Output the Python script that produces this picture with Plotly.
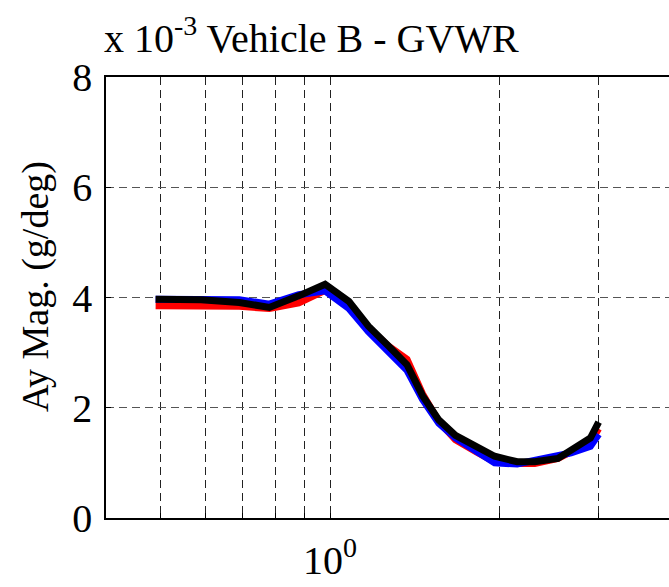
import plotly.graph_objects as go

freq = [0.49, 0.59, 0.69, 0.78, 0.88, 0.98, 1.08, 1.17, 1.27, 1.37, 1.46, 1.56,
        1.67, 1.82, 1.96, 2.15, 2.31, 2.54, 2.68, 2.90, 3.00]
red_vals = [3.85, 3.85, 3.84, 3.80, 3.90, 4.13, 3.88, 3.45, 3.12, 2.88, 2.25, 1.75,
            1.42, 1.20, 1.02, 0.99, 0.99, 1.08, 1.20, 1.38, 1.62]
blue_vals = [3.97, 3.97, 3.96, 3.88, 4.05, 4.12, 3.80, 3.38, 3.02, 2.68, 2.15, 1.72,
             1.45, 1.22, 1.00, 0.98, 1.05, 1.12, 1.18, 1.30, 1.52]
black_vals = [3.97, 3.96, 3.91, 3.82, 4.03, 4.24, 3.93, 3.48, 3.12, 2.78, 2.22, 1.78,
              1.50, 1.30, 1.12, 1.02, 1.02, 1.08, 1.23, 1.45, 1.74]

x_grid = [0.5, 0.6, 0.7, 0.8, 0.9, 1, 2, 3]
x_text = ["", "", "", "", "", "10<sup>0</sup>", "", ""]
y_ticks = [0, 2, 4, 6, 8]

FONT = "Liberation Serif, Times New Roman, serif"

fig = go.Figure()
for vals, col in [(red_vals, "#ff0000"), (blue_vals, "#0000ff"), (black_vals, "#000000")]:
    fig.add_trace(go.Scatter(x=freq, y=vals, mode="lines",
                             line=dict(color=col, width=7), showlegend=False))

fig.update_layout(
    width=669, height=587,
    margin=dict(l=106, r=0, t=77, b=69, autoexpand=False),
    paper_bgcolor="white", plot_bgcolor="white",
    font=dict(family=FONT, size=40, color="black"),
)
fig.update_xaxes(
    type="log", range=[-0.39794, 0.60206], automargin=False,
    tickvals=x_grid, ticktext=x_text,
    showgrid=True, gridcolor="#222222", griddash="8px,5px", gridwidth=1,
    showline=True, linecolor="black", linewidth=1.5, mirror=True,
    ticks="inside", ticklen=5, tickcolor="black", ticklabelstandoff=6,
    tickfont=dict(family=FONT, size=40), zeroline=False,
)
fig.update_yaxes(
    range=[0, 8], tickvals=y_ticks, automargin=False,
    showgrid=True, gridcolor="#555555", griddash="8px,5px", gridwidth=1,
    showline=True, linecolor="black", linewidth=1.5, mirror=False,
    ticks="inside", ticklen=5, tickcolor="black", ticklabelstandoff=4,
    tickfont=dict(family=FONT, size=40), zeroline=False,
)
fig.add_annotation(
    text="x 10<sup>-3</sup> Vehicle B - GVWR", xref="paper", yref="paper",
    x=0, y=1, xanchor="left", yanchor="bottom", xshift=-4, yshift=14,
    showarrow=False, font=dict(family=FONT, size=40),
)
fig.add_annotation(
    text="Ay Mag. (g/deg)", xref="paper", yref="paper",
    x=0, y=0.524, xanchor="center", yanchor="middle", xshift=-70,
    textangle=-90, showarrow=False, font=dict(family=FONT, size=38),
)

fig.write_html("out.html", config={"displayModeBar": False},
               post_script="document.body.style.margin='0';")
